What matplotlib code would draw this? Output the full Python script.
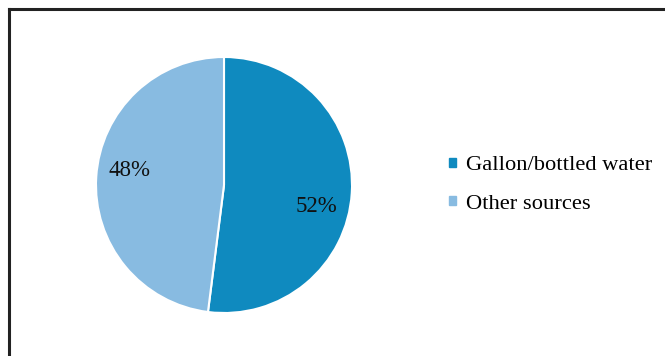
import matplotlib.pyplot as plt
import matplotlib.patches as mpatches
from matplotlib.lines import Line2D

# Data
labels = ['Gallon/bottled water', 'Other sources']
shares = [52, 48]
colors = ['#0F8ABF', '#88BBE1']

W, H = 665, 356
fig = plt.figure(figsize=(W / 100, H / 100), dpi=100)
plt.rcParams['font.family'] = ['Liberation Serif', 'DejaVu Serif']

# chart frame (only left and top edges visible in the crop)
fig.add_artist(Line2D([9 / W, 9 / W], [0, 1 - 9 / H], color='#222222', lw=2.2,
                      transform=fig.transFigure))
fig.add_artist(Line2D([9 / W, 1], [1 - 9 / H, 1 - 9 / H], color='#222222', lw=2.2,
                      transform=fig.transFigure))

# pie axes: center (224,185), radius 128 px
r = 128
cx, cy = 224, 185
ax = fig.add_axes([(cx - r) / W, (H - cy - r) / H, 2 * r / W, 2 * r / H])
wedges, texts, autotexts = ax.pie(
    shares, colors=colors, startangle=90, counterclock=False,
    autopct='%d%%', pctdistance=0.75,
    wedgeprops=dict(edgecolor='white', linewidth=1.5),
    textprops=dict(fontsize=16.5, color='#111111'))
ax.set_xlim(-1, 1)
ax.set_ylim(-1, 1)
ax.set_aspect('equal')
# label placement as in the original
autotexts[0].set_position((0.72, -0.17))
autotexts[1].set_position((-0.74, 0.11))

handles = [mpatches.Patch(color=c, label=l) for c, l in zip(colors, labels)]
fig.legend(handles=handles, loc='center left', bbox_to_anchor=(429 / W, 1 - 185 / H),
           frameon=False, fontsize=16.2, handlelength=0.28, handleheight=0.28,
           handletextpad=0.45, labelspacing=0.85)

plt.savefig('out.png', dpi=100)
